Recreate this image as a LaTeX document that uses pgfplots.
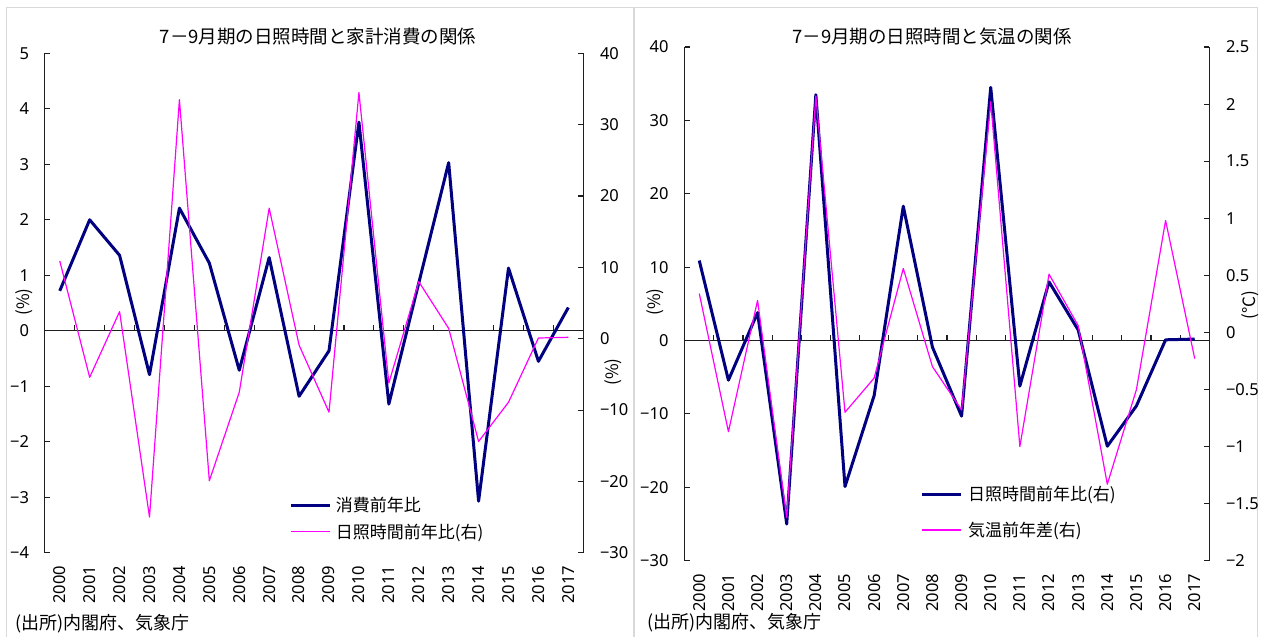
\documentclass[border=0pt]{standalone}
\usepackage{fontspec}
\setmainfont{Noto Sans CJK JP}
\newfontfamily\numfont{Noto Sans}
\usepackage{pgfplots}
\usepackage{pgfplotstable}
\pgfplotsset{compat=1.18}
\definecolor{navy}{RGB}{0,0,128}
\definecolor{mag}{RGB}{255,0,255}
\definecolor{panelgray}{RGB}{217,217,217}
\definecolor{axc}{RGB}{30,30,30}

% left panel: consumption (left axis), sunshine (right axis)
\pgfplotstableread{
x cons sun
0 0.72 10.9
1 2.00 -5.4
2 1.36 3.8
3 -0.79 -25.0
4 2.21 33.5
5 1.22 -19.9
6 -0.71 -7.5
7 1.32 18.3
8 -1.18 -0.9
9 -0.36 -10.3
10 3.76 34.5
11 -1.32 -6.2
12 0.86 8.0
13 3.03 1.45
14 -3.07 -14.4
15 1.13 -8.9
16 -0.55 0.1
17 0.42 0.2
}\dataL

% right panel: sunshine (left axis), temperature (right axis)
\pgfplotstableread{
x sun temp
0 10.9 0.34
1 -5.4 -0.87
2 3.8 0.28
3 -25.0 -1.62
4 33.5 2.07
5 -19.9 -0.70
6 -7.5 -0.40
7 18.3 0.56
8 -0.9 -0.30
9 -10.3 -0.68
10 34.5 2.02
11 -6.2 -1.00
12 8.0 0.51
13 1.45 0.06
14 -14.4 -1.33
15 -8.9 -0.50
16 0.1 0.98
17 0.2 -0.23
}\dataR

\pgfplotsset{
  panelaxis/.style={
    scale only axis, xmin=-0.5, xmax=17.5,
    tick align=inside, major tick length=5pt,
    axis line style={axc, line width=1.1pt},
    tick style={axc, line width=1.1pt},
    ticklabel style={font=\numfont\fontsize{16.5}{16.5}\selectfont, text=black, inner sep=0pt},
  },
  leftaxis/.style={
    panelaxis,
    axis y line*=left, axis x line*=bottom,
    x axis line style={draw=none},
    xtick={0,...,17},
    xticklabels={2000,2001,2002,2003,2004,2005,2006,2007,2008,2009,2010,2011,2012,2013,2014,2015,2016,2017},
    xtick style={draw=none},
    xticklabel style={yshift=-13pt, rotate=90, anchor=east},
    yticklabel style={anchor=east, xshift=-15.5pt},
  },
  rightaxis/.style={
    panelaxis,
    axis y line*=right, axis x line=none,
    yticklabel style={anchor=west, xshift=16.5pt},
    legend cell align=left,
  },
}

\begin{document}
\begin{tikzpicture}[x=1pt,y=1pt]
\useasboundingbox (0,0) rectangle (1261,637);
\fill[white] (0,0) rectangle (1261,637);
% panel frames
\draw[panelgray, line width=1.2pt] (6.7,0) -- (6.7,629.7) -- (1257.3,629.7) -- (1257.3,0);
\draw[panelgray, line width=1.2pt] (634,0) -- (634,629.7);

% ===== left panel =====
\begin{axis}[leftaxis, at={(44.8pt,84.2pt)}, anchor=south west,
  width=538.5pt, height=499.5pt, ymin=-4, ymax=5,
  ytick={-4,...,5}, yticklabels={−4,−3,−2,−1,0,1,2,3,4,5}]
  \draw[axc, line width=1.1pt] (axis cs:-0.5,0) -- (axis cs:17.5,0);
  \pgfplotsinvokeforeach{0.5,1.5,...,16.5}{\draw[axc, line width=1.1pt] (axis cs:#1,0) -- ++(0pt,6pt);}
  \addplot[navy, line width=3pt, line join=round] table[x=x, y=cons]{\dataL};
\end{axis}
\begin{axis}[rightaxis, at={(44.8pt,84.2pt)}, anchor=south west,
  width=538.5pt, height=499.5pt, ymin=-30, ymax=40,
  ytick={-30,-20,...,40}, yticklabels={−30,−20,−10,0,10,20,30,40},
  legend style={at={(0.4553,0.1087)}, anchor=north west, draw=none, fill=none,
    inner sep=0pt, outer sep=0pt, font=\fontsize{17}{17}\selectfont,
    row sep=13.7pt, column sep=4.4pt,
    nodes={inner sep=0pt, text height=13pt, text depth=0pt}},
  legend image code/.code={\draw[#1] (0pt,0pt) -- (38.6pt,0pt);}]
  \addlegendimage{navy, line width=3pt}
  \addlegendentry{消費前年比}
  \addplot[mag, line width=1.2pt, line join=round] table[x=x, y=sun]{\dataL};
  \addlegendentry{日照時間前年比(右)}
\end{axis}
\node[font=\fontsize{18.5}{18.5}\selectfont] at (318,600.5) {7－9月期の日照時間と家計消費の関係};
\node[font=\fontsize{17}{17}\selectfont, rotate=90] at (24,335) {(\%)};
\node[font=\fontsize{17}{17}\selectfont, rotate=90] at (613,265) {(\%)};
\node[font=\fontsize{18}{18}\selectfont, anchor=west, inner sep=0pt] at (15,13) {(出所)内閣府、気象庁};

% ===== right panel =====
\begin{axis}[leftaxis, at={(684.7pt,76.3pt)}, anchor=south west,
  width=524.6pt, height=513.7pt, ymin=-30, ymax=40,
  ytick={-30,-20,...,40}, yticklabels={−30,−20,−10,0,10,20,30,40},
  yticklabel style={xshift=-0.5pt}]
  \draw[axc, line width=1.1pt] (axis cs:-0.5,0) -- (axis cs:17.5,0);
  \pgfplotsinvokeforeach{0.5,1.5,...,16.5}{\draw[axc, line width=1.1pt] (axis cs:#1,0) -- ++(0pt,6pt);}
  \addplot[navy, line width=3pt, line join=round] table[x=x, y=sun]{\dataR};
\end{axis}
\begin{axis}[rightaxis, at={(684.7pt,76.3pt)}, anchor=south west,
  width=524.6pt, height=513.7pt, ymin=-2, ymax=2.5,
  ytick={-2,-1.5,...,2.5}, yticklabels={−2,−1.5,−1,−0.5,0,0.5,1,1.5,2,2.5},
  legend style={at={(0.4499,0.1419)}, anchor=north west, draw=none, fill=none,
    inner sep=0pt, outer sep=0pt, font=\fontsize{17}{17}\selectfont,
    row sep=22.7pt, column sep=5.7pt,
    nodes={inner sep=0pt, text height=13pt, text depth=0pt}},
  legend image code/.code={\draw[#1] (0pt,0pt) -- (38.6pt,0pt);}]
  \addlegendimage{navy, line width=3pt}
  \addlegendentry{日照時間前年比(右)}
  \addplot[mag, line width=1.2pt, line join=round] table[x=x, y=temp]{\dataR};
  \addlegendentry{気温前年差(右)}
\end{axis}
\node[font=\fontsize{18.5}{18.5}\selectfont] at (932,600.5) {7－9月期の日照時間と気温の関係};
\node[font=\fontsize{17}{17}\selectfont, rotate=90] at (655,335) {(\%)};
\node[font=\fontsize{17}{17}\selectfont, rotate=90] at (1250,332) {(°C)};
\node[font=\fontsize{18}{18}\selectfont, anchor=west, inner sep=0pt] at (647,14) {(出所)内閣府、気象庁};
\end{tikzpicture}
\end{document}
